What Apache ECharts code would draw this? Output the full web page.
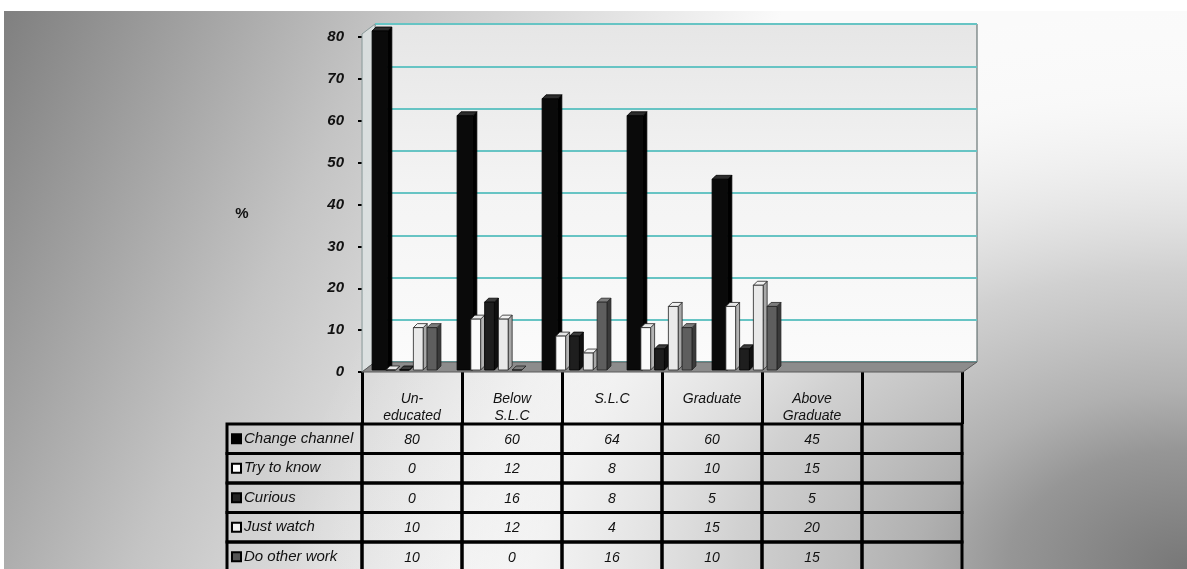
<!DOCTYPE html>
<html>
<head>
<meta charset="utf-8">
<script src="https://cdn.jsdelivr.net/npm/echarts@6/dist/echarts.min.js"></script>
<style>
  html, body { margin: 0; padding: 0; background: #fff; }
  #chart { width: 1187px; height: 569px; }
</style>
</head>
<body>
<div id="chart"></div>
<script>
// data
var categories = ['Un-\neducated', 'Below\nS.L.C', 'S.L.C', 'Graduate', 'Above\nGraduate', ''];
var seriesNames = ['Change channel', 'Try to know', 'Curious', 'Just watch', 'Do other work'];
var changeChannel = [80, 60, 64, 60, 45];
var tryToKnow = [0, 12, 8, 10, 15];
var curious = [0, 16, 8, 5, 5];
var justWatch = [10, 12, 4, 15, 20];
var doOtherWork = [10, 0, 16, 10, 15];
var yMin = 0, yMax = 80, yStep = 10;

var allValues = [changeChannel, tryToKnow, curious, justWatch, doOtherWork];

// look of each series (front / side / top faces)
var barStyles = [
  { front: '#0a0a0a', side: '#000000', top: '#2c2c2c', stroke: '#000', extra: 6 },
  { front: '#fbfbfb', side: '#b4b4b4', top: '#e6e6e6', stroke: '#222', extra: 0 },
  { front: '#1e1e1e', side: '#101010', top: '#3c3c3c', stroke: '#000', extra: 0 },
  { front: '#e9e9e9', side: '#a8a8a8', top: '#f2f2f2', stroke: '#222', extra: 0 },
  { front: '#5e5e5e', side: '#3a3a3a', top: '#7c7c7c', stroke: '#222', extra: 0 }
];
var keyStyles = [
  { fill: '#000', stroke: '#000' },
  { fill: '#fff', stroke: '#000' },
  { fill: '#222', stroke: '#000' },
  { fill: '#f2f2f2', stroke: '#000' },
  { fill: '#555', stroke: '#000' }
];

var FONT = 'Liberation Sans, Arial, sans-serif';
var chart = echarts.init(document.getElementById('chart'));

// pseudo 3d bar
function barRenderer(s, st) {
  return function (params, api) {
    var cat = api.value(0), val = api.value(1);
    var base = api.coord([cat, 0]);
    var top = api.coord([cat, val]);
    var band = api.size([1, 0])[0];
    var groupW = band * 0.81;
    var bw = groupW / 5 + st.extra;
    var d = 4;
    var x0 = base[0] - groupW / 2 + s * (groupW / 5);
    var xf = x0 + bw - d;
    return {
      type: 'group',
      children: [
        { type: 'polygon', shape: { points: [[xf, top[1]], [x0 + bw, top[1] - d], [x0 + bw, base[1] - d], [xf, base[1]]] },
          style: { fill: st.side, stroke: st.stroke, lineWidth: 0.8 } },
        { type: 'polygon', shape: { points: [[x0, top[1]], [x0 + d, top[1] - d], [x0 + bw, top[1] - d], [xf, top[1]]] },
          style: { fill: st.top, stroke: st.stroke, lineWidth: 0.8 } },
        { type: 'rect', shape: { x: x0, y: top[1], width: bw - d, height: base[1] - top[1] },
          style: { fill: st.front, stroke: st.stroke, lineWidth: 0.8 } }
      ]
    };
  };
}

// data table cells
function tableRenderer(params, api) {
  var c = api.value(0), r = api.value(1);
  var p = api.coord([c, r]);
  var sz = api.size([1, 1]);
  var w = sz[0], h = sz[1];
  var txt = c < allValues[r].length ? String(allValues[r][c]) : '';
  var kids = [
    { type: 'rect', shape: { x: p[0] - w / 2, y: p[1] - h / 2, width: w, height: h },
      style: { fill: 'none', stroke: '#000', lineWidth: 3 } },
    { type: 'text', x: p[0], y: p[1] + 1,
      style: { text: txt, fill: '#111', fontSize: 14, fontStyle: 'italic', fontFamily: FONT, align: 'center', verticalAlign: 'middle' } }
  ];
  if (c === 0) {
    var lw = w * 1.35;
    var lx = p[0] - w / 2 - lw;
    kids.push(
      { type: 'rect', shape: { x: lx, y: p[1] - h / 2, width: lw, height: h },
        style: { fill: 'none', stroke: '#000', lineWidth: 3 } },
      { type: 'rect', shape: { x: lx + 5, y: p[1] - 4.5, width: 9, height: 9 },
        style: { fill: keyStyles[r].fill, stroke: keyStyles[r].stroke, lineWidth: 2 } },
      { type: 'text', x: lx + 17, y: p[1],
        style: { text: seriesNames[r], fill: '#111', fontSize: 15, fontStyle: 'italic', fontFamily: FONT, align: 'left', verticalAlign: 'middle' } }
    );
  }
  return { type: 'group', children: kids };
}

var tableData = [];
for (var r = 0; r < seriesNames.length; r++) {
  for (var c = 0; c < categories.length; c++) tableData.push([c, r]);
}

var series = seriesNames.map(function (name, s) {
  return {
    name: name,
    type: 'custom',
    xAxisIndex: 2,
    yAxisIndex: 2,
    z: 5,
    renderItem: barRenderer(s, barStyles[s]),
    encode: { x: 0, y: 1 },
    data: allValues[s].map(function (v, i) { return [i, v]; })
  };
});
series.push({
  type: 'custom',
  xAxisIndex: 3,
  yAxisIndex: 3,
  z: 5,
  renderItem: tableRenderer,
  encode: { x: 0, y: 1 },
  data: tableData
});

var wallFill = new echarts.graphic.LinearGradient(0, 0, 0, 1, [
  { offset: 0, color: '#e6e6e6' },
  { offset: 0.5, color: '#f4f4f4' },
  { offset: 1, color: '#fbfbfb' }
]);

var option = {
  animation: false,
  textStyle: { fontFamily: FONT },
  grid: [
    // front plane: y labels + header
    { left: 362, top: 37, width: 600, height: 335, outerBoundsMode: 'none' },
    // back wall
    { left: 375, top: 24, width: 602, height: 338, show: true, backgroundColor: wallFill,
      borderColor: '#4f5f5f', borderWidth: 1, outerBoundsMode: 'none' },
    // bars
    { left: 364, top: 31, width: 510, height: 339, outerBoundsMode: 'none' },
    // table body
    { left: 362, top: 424, width: 600, height: 147.5, outerBoundsMode: 'none' }
  ],
  xAxis: [
    { gridIndex: 0, type: 'category', data: categories,
      axisLine: { show: false },
      axisTick: { show: true, interval: 0, length: 52, lineStyle: { color: '#000', width: 3 } },
      axisLabel: { interval: 0, fontSize: 14, fontStyle: 'italic', color: '#111', lineHeight: 17, margin: 19 },
      splitLine: { show: false } },
    { gridIndex: 1, type: 'category', data: categories, show: false },
    { gridIndex: 2, type: 'category', data: categories, show: false },
    { gridIndex: 3, type: 'category', data: categories, show: false }
  ],
  yAxis: [
    { gridIndex: 0, type: 'value', min: yMin, max: yMax, interval: yStep,
      axisLine: { show: true, lineStyle: { color: '#a0a0a0', width: 1 } },
      axisTick: { show: true, length: 4, lineStyle: { color: '#000', width: 2 } },
      axisLabel: { fontSize: 15, fontWeight: 'bold', fontStyle: 'italic', color: '#111', margin: 18 },
      splitLine: { show: false } },
    { gridIndex: 1, type: 'value', min: yMin, max: yMax, interval: yStep,
      axisLine: { show: false }, axisTick: { show: false }, axisLabel: { show: false },
      splitLine: { show: true, lineStyle: { color: '#67c4c4', width: 2 } } },
    { gridIndex: 2, type: 'value', min: yMin, max: yMax, show: false, splitLine: { show: false } },
    { gridIndex: 3, type: 'category', data: seriesNames, inverse: true, show: false }
  ],
  graphic: [
    { type: 'rect', z: -100, silent: true, shape: { x: 0, y: 0, width: 1187, height: 569 },
      style: { fill: new echarts.graphic.LinearGradient(0, 0, 650, 300, [
        { offset: 0, color: '#7e7e7e' },
        { offset: 0.5, color: '#c4c4c4' },
        { offset: 1, color: '#fafafa' }
      ], true) } },
    // dark corner bottom right (elliptical falloff)
    { type: 'rect', z: -99, silent: true, x: 1187, y: 569, scaleY: 0.66,
      shape: { x: -900, y: -900, width: 1800, height: 1800 },
      style: { fill: new echarts.graphic.RadialGradient(0.5, 0.5, 0.5, [
        { offset: 0, color: 'rgba(119,119,119,1)' },
        { offset: 0.2, color: 'rgba(150,150,150,1)' },
        { offset: 0.3, color: 'rgba(172,172,172,0.95)' },
        { offset: 0.5, color: 'rgba(198,198,198,0.8)' },
        { offset: 0.8, color: 'rgba(245,245,245,0.3)' },
        { offset: 1, color: 'rgba(255,255,255,0)' }
      ]) } },
    { type: 'rect', z: -98, silent: true, shape: { x: 0, y: 0, width: 1187, height: 11 }, style: { fill: '#fff' } },
    { type: 'rect', z: -98, silent: true, shape: { x: 0, y: 0, width: 4, height: 569 }, style: { fill: '#fff' } },
    { type: 'text', z: 3, silent: true, x: 242, y: 214,
      style: { text: '%', fill: '#111', fontSize: 15, fontWeight: 'bold', fontFamily: FONT, align: 'center', verticalAlign: 'middle' } },
    // left wall
    { type: 'polygon', z: 3, silent: true,
      shape: { points: [[362, 372], [362, 34], [375, 24], [375, 362]] },
      style: { fill: 'rgba(220,226,226,0.85)', stroke: '#8a9a9a', lineWidth: 1 } },
    // floor
    { type: 'polygon', z: 3, silent: true,
      shape: { points: [[362, 372], [375, 362], [977, 362], [963, 372]] },
      style: { fill: '#8c8c8c', stroke: '#5a5a5a', lineWidth: 1 } }
  ],
  series: series
};

chart.setOption(option);
</script>
</body>
</html>
